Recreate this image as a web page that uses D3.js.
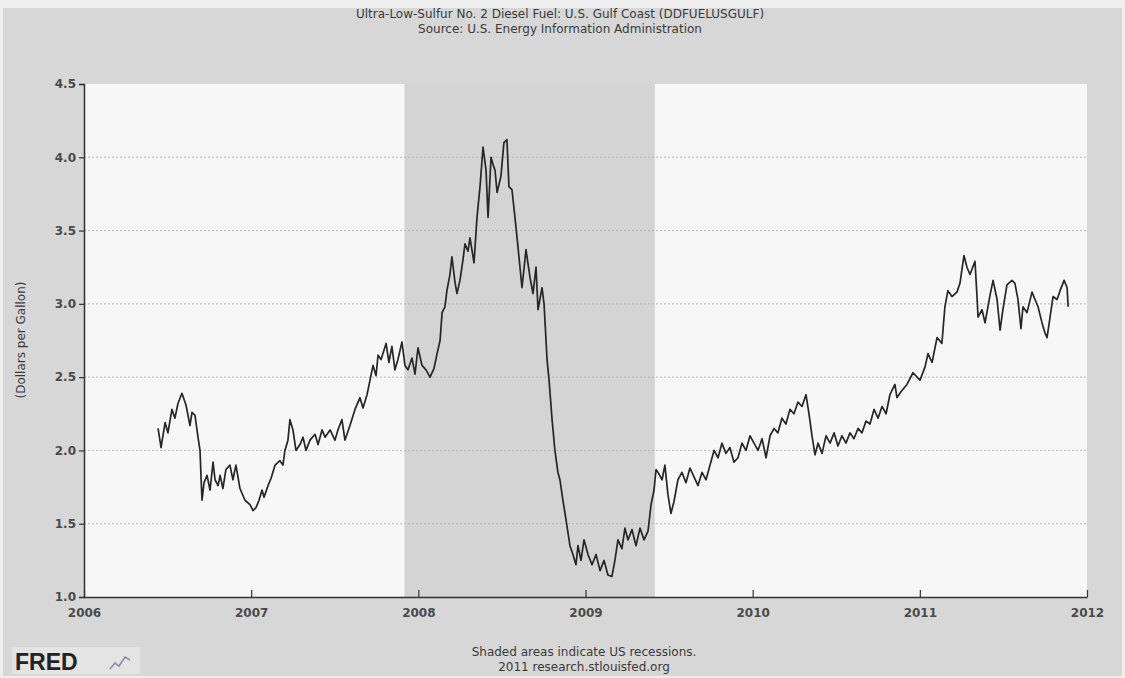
<!DOCTYPE html>
<html>
<head>
<meta charset="utf-8">
<script src="https://cdn.jsdelivr.net/npm/d3@7"></script>
<style>
  body { margin: 0; background: #eeeeee; }
  text { font-family: "DejaVu Sans", Verdana, sans-serif; }
</style>
</head>
<body>
<div id="chart"></div>
<script>
// series values (decimal year, dollars per gallon)
var dates = [
  2006.443, 2006.461, 2006.485, 2006.502, 2006.526, 2006.544, 2006.562, 2006.586, 2006.610, 2006.634,
  2006.646, 2006.664, 2006.682, 2006.694, 2006.700, 2006.706, 2006.718, 2006.736, 2006.754, 2006.772,
  2006.784, 2006.802, 2006.814, 2006.831, 2006.849, 2006.873, 2006.891, 2006.909, 2006.933, 2006.963,
  2006.993, 2007.011, 2007.029, 2007.047, 2007.065, 2007.077, 2007.101, 2007.119, 2007.143, 2007.172,
  2007.190, 2007.202, 2007.220, 2007.232, 2007.250, 2007.268, 2007.292, 2007.310, 2007.328, 2007.352,
  2007.382, 2007.400, 2007.424, 2007.442, 2007.472, 2007.501, 2007.519, 2007.543, 2007.561, 2007.591,
  2007.621, 2007.651, 2007.669, 2007.693, 2007.711, 2007.729, 2007.747, 2007.759, 2007.777, 2007.807,
  2007.824, 2007.842, 2007.860, 2007.878, 2007.902, 2007.920, 2007.938, 2007.962, 2007.980, 2007.998,
  2008.022, 2008.046, 2008.070, 2008.094, 2008.112, 2008.130, 2008.142, 2008.159, 2008.171, 2008.189,
  2008.201, 2008.219, 2008.231, 2008.249, 2008.267, 2008.279, 2008.297, 2008.309, 2008.333, 2008.351,
  2008.369, 2008.387, 2008.405, 2008.417, 2008.435, 2008.447, 2008.459, 2008.471, 2008.494, 2008.512,
  2008.530, 2008.542, 2008.560, 2008.578, 2008.596, 2008.620, 2008.644, 2008.668, 2008.686, 2008.704,
  2008.716, 2008.740, 2008.752, 2008.770, 2008.782, 2008.800, 2008.817, 2008.835, 2008.847, 2008.865,
  2008.883, 2008.907, 2008.925, 2008.943, 2008.955, 2008.973, 2008.991, 2009.015, 2009.039, 2009.063,
  2009.087, 2009.111, 2009.134, 2009.158, 2009.176, 2009.194, 2009.218, 2009.236, 2009.254, 2009.278,
  2009.302, 2009.326, 2009.350, 2009.374, 2009.392, 2009.410, 2009.422, 2009.434, 2009.458, 2009.475,
  2009.493, 2009.511, 2009.529, 2009.553, 2009.577, 2009.601, 2009.625, 2009.649, 2009.673, 2009.697,
  2009.721, 2009.745, 2009.769, 2009.793, 2009.816, 2009.840, 2009.864, 2009.888, 2009.912, 2009.936,
  2009.960, 2009.984, 2010.008, 2010.032, 2010.056, 2010.080, 2010.104, 2010.128, 2010.151, 2010.175,
  2010.199, 2010.223, 2010.247, 2010.271, 2010.295, 2010.319, 2010.337, 2010.355, 2010.373, 2010.391,
  2010.415, 2010.439, 2010.463, 2010.487, 2010.510, 2010.534, 2010.558, 2010.582, 2010.606, 2010.630,
  2010.654, 2010.678, 2010.702, 2010.726, 2010.750, 2010.774, 2010.798, 2010.821, 2010.851, 2010.863,
  2010.887, 2010.923, 2010.959, 2011.001, 2011.031, 2011.049, 2011.073, 2011.103, 2011.132, 2011.150,
  2011.168, 2011.192, 2011.222, 2011.240, 2011.264, 2011.282, 2011.300, 2011.330, 2011.342, 2011.348,
  2011.372, 2011.390, 2011.420, 2011.438, 2011.462, 2011.480, 2011.497, 2011.521, 2011.551, 2011.569,
  2011.587, 2011.605, 2011.617, 2011.641, 2011.671, 2011.689, 2011.707, 2011.731, 2011.749, 2011.761,
  2011.779, 2011.797, 2011.821, 2011.839, 2011.863, 2011.881, 2011.887
];
var prices = [
  2.15, 2.02, 2.19, 2.12, 2.28, 2.22, 2.32, 2.39, 2.31, 2.17,
  2.26, 2.24, 2.09, 2.00, 1.82, 1.66, 1.78, 1.83, 1.73, 1.92,
  1.80, 1.76, 1.83, 1.74, 1.87, 1.90, 1.80, 1.90, 1.74, 1.66,
  1.63, 1.59, 1.61, 1.66, 1.73, 1.68, 1.76, 1.81, 1.90, 1.93,
  1.90, 2.00, 2.07, 2.21, 2.14, 2.00, 2.04, 2.09, 2.00, 2.07,
  2.11, 2.04, 2.14, 2.09, 2.14, 2.07, 2.14, 2.21, 2.07, 2.17,
  2.28, 2.36, 2.29, 2.38, 2.48, 2.58, 2.51, 2.65, 2.62, 2.73,
  2.60, 2.71, 2.55, 2.62, 2.74, 2.58, 2.55, 2.63, 2.52, 2.70,
  2.58, 2.55, 2.50, 2.56, 2.66, 2.75, 2.94, 2.98, 3.09, 3.20,
  3.32, 3.15, 3.07, 3.16, 3.30, 3.41, 3.36, 3.45, 3.28, 3.59,
  3.80, 4.07, 3.91, 3.59, 4.00, 3.95, 3.91, 3.76, 3.87, 4.10,
  4.12, 3.80, 3.78, 3.59, 3.39, 3.11, 3.37, 3.18, 3.07, 3.25,
  2.96, 3.11, 3.00, 2.62, 2.48, 2.21, 2.00, 1.85, 1.80, 1.66,
  1.53, 1.35, 1.29, 1.22, 1.35, 1.25, 1.39, 1.29, 1.22, 1.29,
  1.18, 1.25, 1.15, 1.14, 1.25, 1.39, 1.33, 1.47, 1.39, 1.46,
  1.35, 1.47, 1.39, 1.45, 1.63, 1.73, 1.87, 1.85, 1.80, 1.90,
  1.70, 1.57, 1.65, 1.80, 1.85, 1.78, 1.88, 1.82, 1.76, 1.85,
  1.80, 1.90, 2.00, 1.95, 2.05, 1.98, 2.02, 1.92, 1.95, 2.05,
  2.00, 2.10, 2.05, 2.00, 2.08, 1.95, 2.10, 2.15, 2.12, 2.22,
  2.18, 2.28, 2.25, 2.33, 2.30, 2.38, 2.25, 2.10, 1.97, 2.05,
  1.98, 2.10, 2.05, 2.12, 2.03, 2.10, 2.05, 2.12, 2.08, 2.15,
  2.12, 2.20, 2.18, 2.28, 2.22, 2.30, 2.25, 2.38, 2.45, 2.36,
  2.40, 2.45, 2.53, 2.48, 2.57, 2.66, 2.60, 2.77, 2.73, 2.98,
  3.09, 3.05, 3.08, 3.14, 3.33, 3.25, 3.20, 3.29, 3.05, 2.91,
  2.96, 2.87, 3.06, 3.16, 3.03, 2.82, 2.96, 3.13, 3.16, 3.14,
  3.03, 2.83, 2.98, 2.94, 3.08, 3.03, 2.98, 2.87, 2.80, 2.77,
  2.91, 3.05, 3.03, 3.09, 3.16, 3.11, 2.98
];
var xTicks = [2006, 2007, 2008, 2009, 2010, 2011, 2012];
var yTicks = [1.0, 1.5, 2.0, 2.5, 3.0, 3.5, 4.0, 4.5];
var recessions = [[2007.917, 2009.415]];

var w = 1125;
var h = 678;
var margin = { top: 84, right: 38, bottom: 81, left: 84 };

var xscale = d3.scaleLinear().domain([2006, 2012]).range([margin.left, w - margin.right]);
var yscale = d3.scaleLinear().domain([1.0, 4.5]).range([h - margin.bottom, margin.top]);

var svg = d3.select("#chart")
            .append("svg")
            .attr("width", w)
            .attr("height", h);

// scanned page background
svg.append("rect")
   .attr("x", 3).attr("y", 8)
   .attr("width", w - 6).attr("height", h - 10)
   .attr("fill", "#d7d7d7");

// plot area
svg.append("rect")
   .attr("x", xscale(2006)).attr("y", yscale(4.5))
   .attr("width", xscale(2012) - xscale(2006))
   .attr("height", yscale(1.0) - yscale(4.5))
   .attr("fill", "#f7f7f7");

// recession shading
svg.selectAll("rect.recession")
   .data(recessions)
   .enter()
   .append("rect")
   .attr("class", "recession")
   .attr("x", d => xscale(d[0]))
   .attr("y", yscale(4.5))
   .attr("width", d => xscale(d[1]) - xscale(d[0]))
   .attr("height", yscale(1.0) - yscale(4.5))
   .attr("fill", "#d4d4d4");

// horizontal grid lines
svg.selectAll("line.grid")
   .data(yTicks.slice(1, -1))
   .enter()
   .append("line")
   .attr("class", "grid")
   .attr("x1", xscale(2006)).attr("x2", xscale(2012))
   .attr("y1", d => yscale(d)).attr("y2", d => yscale(d))
   .attr("stroke", "#b8b8b8")
   .attr("stroke-width", 1)
   .attr("stroke-dasharray", "2,2");

// price line
var line = d3.line()
             .x((d, i) => xscale(dates[i]))
             .y(d => yscale(d));

svg.append("path")
   .datum(prices)
   .attr("d", line)
   .attr("fill", "none")
   .attr("stroke", "#262626")
   .attr("stroke-width", 1.7)
   .attr("stroke-linejoin", "round");

// y-axis
var yAxis = svg.append("g")
   .attr("transform", `translate(${margin.left}, 0)`)
   .call(d3.axisLeft(yscale).tickValues(yTicks).tickFormat(d3.format(".1f")).tickSize(5).tickPadding(3));
yAxis.select(".domain").attr("stroke", "#333").attr("stroke-width", 1.5);
yAxis.selectAll(".tick line").attr("stroke", "#333").attr("stroke-width", 1.2);
yAxis.selectAll("text")
     .attr("fill", "#4a4a4a")
     .style("font-size", "12px")
     .style("font-weight", "bold");

// x-axis (ticks point inward)
var xAxis = svg.append("g")
   .attr("transform", `translate(0, ${h - margin.bottom})`)
   .call(d3.axisBottom(xscale).tickValues(xTicks).tickFormat(d3.format("d")).tickSizeInner(-7).tickSizeOuter(0).tickPadding(11));
xAxis.select(".domain").attr("stroke", "#333").attr("stroke-width", 1.5);
xAxis.selectAll(".tick line").attr("stroke", "#333").attr("stroke-width", 1.2);
xAxis.selectAll("text")
     .attr("fill", "#4a4a4a")
     .style("font-size", "12px")
     .style("font-weight", "bold");

// titles
svg.append("text")
   .attr("x", 560).attr("y", 18)
   .attr("text-anchor", "middle")
   .attr("fill", "#3a3a3a")
   .style("font-size", "12px")
   .text("Ultra-Low-Sulfur No. 2 Diesel Fuel: U.S. Gulf Coast (DDFUELUSGULF)");

svg.append("text")
   .attr("x", 560).attr("y", 33)
   .attr("text-anchor", "middle")
   .attr("fill", "#3a3a3a")
   .style("font-size", "12px")
   .text("Source: U.S. Energy Information Administration");

// y-axis label
svg.append("text")
   .attr("x", -340)
   .attr("y", 25)
   .attr("transform", "rotate(-90)")
   .attr("text-anchor", "middle")
   .attr("fill", "#3a3a3a")
   .style("font-size", "12px")
   .text("(Dollars per Gallon)");

// footer
svg.append("text")
   .attr("x", 584).attr("y", 656)
   .attr("text-anchor", "middle")
   .attr("fill", "#3a3a3a")
   .style("font-size", "12px")
   .text("Shaded areas indicate US recessions.");

svg.append("text")
   .attr("x", 584).attr("y", 671)
   .attr("text-anchor", "middle")
   .attr("fill", "#3a3a3a")
   .style("font-size", "12px")
   .text("2011 research.stlouisfed.org");

// FRED logo
svg.append("rect")
   .attr("x", 12).attr("y", 647)
   .attr("width", 128).attr("height", 27)
   .attr("fill", "#e4e4e4");

svg.append("text")
   .attr("x", 15).attr("y", 670)
   .attr("fill", "#222")
   .style("font-size", "23px")
   .style("font-weight", "bold")
   .style("font-family", "'Liberation Sans', Arial, sans-serif")
   .text("FRED");

svg.append("path")
   .attr("d", "M110,669 L115,663 L119,666 L125,657 L130,660")
   .attr("fill", "none")
   .attr("stroke", "#8a8fa8")
   .attr("stroke-width", 1.6);
</script>
</body>
</html>
